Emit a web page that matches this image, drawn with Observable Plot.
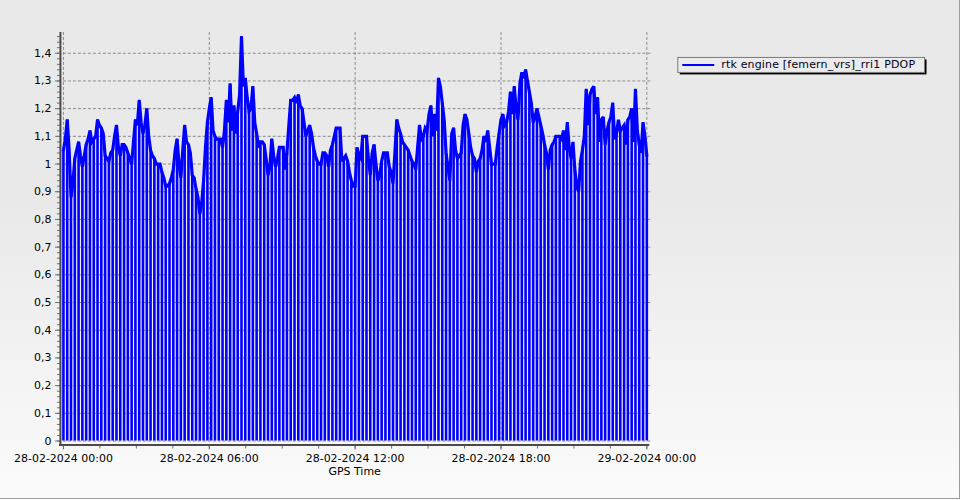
<!DOCTYPE html>
<html><head><meta charset="utf-8">
<script src="https://cdn.jsdelivr.net/npm/d3@7"></script>
<script src="https://cdn.jsdelivr.net/npm/@observablehq/plot@0.6"></script>
<style>
html,body{margin:0;padding:0;background:#fff;}
#chart{position:relative;width:959px;height:498px;border-right:1px solid #9c9c9c;border-bottom:1px solid #9c9c9c;background:linear-gradient(#e9e9e9 0%, #e9e9e9 40%, #fbfbfb 100%);overflow:hidden}
#chart svg{position:absolute;left:0;top:0;}
</style></head><body><div id="chart"></div>
<script>
const startTime = "2024-02-28T00:00:00Z";
const endTime = "2024-02-29T00:00:00Z";
const seriesName = "rtk engine [femern_vrs]_rri1 PDOP";
const xLabel = "GPS Time";
// PDOP value at each drop-out epoch (one per stripe)
const pdop = [
  1.05,1.16,0.88,1.02,1.08,0.99,1.07,1.12,1.09,1.16,
  1.13,1.03,1.01,1.05,1.14,1.03,1.07,1.04,1.00,1.16,
  1.23,1.11,1.20,1.05,1.02,1.00,0.97,0.92,0.93,0.98,
  1.09,0.95,1.14,1.07,0.96,0.91,0.82,0.94,1.15,1.24,
  1.10,1.09,1.06,1.23,1.29,1.21,1.19,1.46,1.31,1.19,
  1.28,1.11,1.08,1.07,0.96,1.09,0.99,1.06,1.06,1.04,
  1.23,1.24,1.25,1.20,1.10,1.14,1.06,1.01,1.00,1.04,
  0.99,1.07,1.13,1.13,1.02,1.01,0.94,0.92,1.03,1.10,
  1.10,0.96,1.07,0.94,1.01,1.04,0.99,0.93,1.16,1.11,
  1.07,1.05,1.01,0.98,1.14,1.10,1.12,1.21,1.18,1.31,
  1.22,1.04,0.94,1.13,1.02,1.04,1.18,1.11,1.03,0.97,
  1.02,1.10,1.12,1.00,1.00,1.11,1.18,1.15,1.26,1.28,
  1.16,1.33,1.34,1.26,1.15,1.20,1.14,1.07,0.98,1.07,
  1.10,1.10,1.12,1.15,1.02,0.98,0.90,1.05,1.27,1.25,
  1.28,1.24,1.16,1.07,1.15,1.22,1.11,1.12,1.14,1.16,
  1.20,1.27,1.07,1.15,1.03
];
// PDOP value half-way between consecutive drop-out epochs
const pdopMid = [
  1.09,1.05,0.93,1.05,1.03,1.03,1.09,1.08,1.10,1.14,
  1.11,1.02,1.04,1.10,1.06,1.07,1.06,1.02,1.08,1.14,
  1.15,1.14,1.10,1.03,1.00,1.00,0.95,0.92,0.95,1.05,
  1.00,1.05,1.08,1.04,0.95,0.88,0.86,1.06,1.20,1.12,
  1.09,1.09,1.12,1.15,1.12,1.11,1.25,1.28,1.24,1.20,
  1.15,1.06,1.08,1.02,0.99,1.03,1.02,1.06,0.98,1.14,
  1.23,1.22,1.21,1.15,1.12,1.11,1.03,1.00,1.04,1.03,
  1.05,1.10,1.13,1.01,1.03,0.97,0.92,1.06,1.02,1.10,
  1.02,1.04,1.00,0.96,1.04,1.04,0.97,1.04,1.13,1.08,
  1.06,1.03,1.00,1.06,1.09,1.13,1.18,1.10,1.12,1.28,
  1.16,0.99,1.11,1.05,1.03,1.14,1.16,1.06,1.02,1.01,
  1.05,1.08,1.06,1.00,1.06,1.16,1.14,1.19,1.18,1.20,
  1.29,1.31,1.30,1.22,1.17,1.17,1.11,1.04,1.05,1.08,
  1.10,1.09,1.05,1.06,1.08,0.92,1.01,1.10,1.14,1.27,
  1.18,1.08,1.17,1.12,1.17,1.09,1.16,1.13,1.07,1.17,
  1.08,1.12,1.04,1.10
];
const yTicks = [0,0.1,0.2,0.3,0.4,0.5,0.6,0.7,0.8,0.9,1.0,1.1,1.2,1.3,1.4];
const xTickTimes = ["2024-02-28T00:00:00Z","2024-02-28T06:00:00Z","2024-02-28T12:00:00Z","2024-02-28T18:00:00Z","2024-02-29T00:00:00Z"];

const t0 = new Date(startTime), t1 = new Date(endTime);
const step = (t1 - t0) / (pdop.length - 1);
const epochs = pdop.map((v, i) => ({time: new Date(+t0 + i * step), pdop: v}));
const lineData = [];
pdop.forEach((v, i) => {
  lineData.push(epochs[i]);
  if (i < pdopMid.length) lineData.push({time: new Date(+t0 + (i + 0.5) * step), pdop: pdopMid[i]});
});
const xTicks = xTickTimes.map(s => new Date(s));
const minorX = d3.utcMinutes(t0, new Date(+t1 + 1)).filter((d, i) => i % 90 === 0);
const minorY = d3.range(0, 74).map(i => i / 50);
const fmtY = d => d === 0 ? "0" : String(+d.toFixed(1)).replace(".", ",");
const fmtX = d3.utcFormat("%d-%m-%Y %H:%M");
const blue = "#0000ff";

const plot = Plot.plot({
  width: 960, height: 500,
  marginLeft: 63, marginRight: 313, marginTop: 32, marginBottom: 59,
  style: {background: "transparent", fontFamily: "DejaVu Sans, Verdana, sans-serif", fontSize: "11px", color: "#000", overflow: "visible"},
  x: {type: "utc", domain: [t0, t1]},
  y: {domain: [0, 1.475]},
  marks: [
    Plot.gridY(yTicks, {stroke: "#8c8c8c", strokeOpacity: 1, strokeDasharray: "3,2", insetRight: -4}),
    Plot.gridX(xTicks, {stroke: "#8c8c8c", strokeOpacity: 1, strokeDasharray: "3,2"}),
    Plot.ruleX(epochs, {x: "time", y1: 0, y2: "pdop", stroke: blue, strokeWidth: 2.6}),
    Plot.line(lineData, {x: "time", y: "pdop", stroke: blue, strokeWidth: 3.2, strokeLinejoin: "miter", strokeMiterlimit: 3}),
    Plot.axisY(minorY, {tickSize: 3, text: null, dx: -3, stroke: "#707070", label: null}),
    Plot.axisY(yTicks, {tickSize: 5, dx: -3, tickPadding: 4, tickFormat: fmtY, stroke: "#707070", fill: "#000", label: null}),
    Plot.axisX(minorX, {tickSize: 4, text: null, dy: 4, stroke: "#707070", label: null}),
    Plot.axisX(xTicks, {tickSize: 5, dy: 4, tickPadding: 4, tickFormat: fmtX, stroke: "#707070", fill: "#000", label: null}),
    Plot.ruleX([t0], {dx: -3, insetBottom: -4, stroke: "#4a4a4a", strokeWidth: 2}),
    Plot.ruleY([0], {dy: 4, insetLeft: -4, insetRight: -3, stroke: "#4a4a4a", strokeWidth: 2})
  ]
});
document.getElementById("chart").appendChild(plot);

const svg = d3.select(plot);
const xs = plot.scale("x");
const xMid = (xs.range[0] + xs.range[1]) / 2;
svg.append("text").attr("x", xMid).attr("y", 473).attr("text-anchor", "middle")
  .attr("dominant-baseline", "middle").attr("font-size", 11).attr("fill", "#000").text(xLabel);

// legend
const lg = svg.append("g").attr("text-anchor", "start");
lg.append("rect").attr("x", 680.5).attr("y", 59.5).attr("width", 247).attr("height", 15).attr("fill", "#000");
lg.append("rect").attr("x", 678.5).attr("y", 57.5).attr("width", 247).attr("height", 15).attr("fill", "#ebebeb").attr("stroke", "#7a7a7a");
lg.append("line").attr("x1", 683).attr("x2", 715).attr("y1", 65).attr("y2", 65).attr("stroke", blue).attr("stroke-width", 2);
lg.append("text").attr("x", 722).attr("y", 65.5).attr("text-anchor", "start").attr("dominant-baseline", "middle")
  .attr("font-size", 11).attr("textLength", 194).attr("lengthAdjust", "spacing").attr("fill", "#000020").text(seriesName);
</script></body></html>
